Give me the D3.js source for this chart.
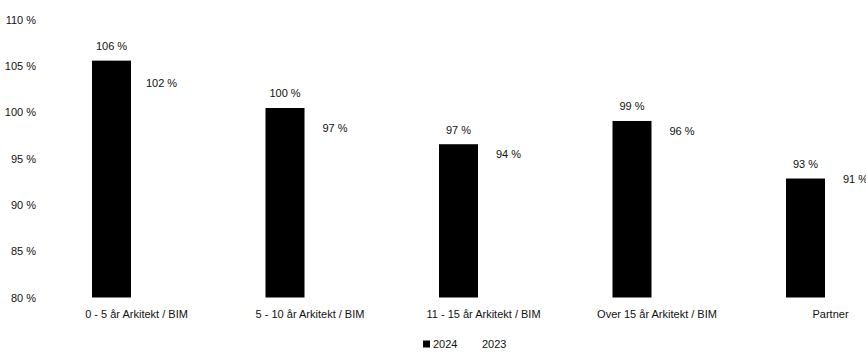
<!DOCTYPE html>
<html>
<head>
<meta charset="utf-8">
<script src="https://cdn.jsdelivr.net/npm/d3@7"></script>
<style>
  html, body { margin: 0; padding: 0; background: #fff; }
  svg { display: block; font-family: "Liberation Sans", Arial, sans-serif; }
</style>
</head>
<body>
<svg id="chart" width="866" height="352"></svg>
<script>
// Salary level relative to reference, per experience group
const categories = ["0 - 5 år Arkitekt / BIM", "5 - 10 år Arkitekt / BIM", "11 - 15 år Arkitekt / BIM", "Over 15 år Arkitekt / BIM", "Partner"];
const years = ["2024", "2023"];
const values2024 = [105.56, 100.45, 96.54, 99.05, 92.84];
const values2023 = [101.53, 96.68, 93.92, 96.43, 91.23];
const yTicks = [80, 85, 90, 95, 100, 105, 110];

const seriesColor = { "2024": "#000000", "2023": "#ffffff" };
const seriesValues = { "2024": values2024, "2023": values2023 };

const svg = d3.select("#chart");
const textColor = "#111";
const fmt = v => `${Math.round(v)} %`;

// Plot area runs past the right edge of the page, as in the exported layout
const x = d3.scaleBand().domain(categories).range([49.75, 917.25]).padding(0);
const groupWidth = 89;
const xSub = d3.scaleBand().domain(years).range([-groupWidth / 2, groupWidth / 2]).paddingInner(0.22);
const y = d3.scaleLinear().domain([80, 110]).range([297.5, 19.5]);

// Y axis: labels only
const yAxis = d3.axisLeft(y).tickValues(yTicks).tickSize(0).tickPadding(0).tickFormat(d => `${d} %`);
const gy = svg.append("g").attr("transform", "translate(36,0)").call(yAxis);
gy.select(".domain").remove();
gy.selectAll("text").attr("fill", textColor).style("font-size", "11px")
  .style("font-family", "\"Liberation Sans\", Arial, sans-serif");

// Bars
const rows = categories.map((c, i) => ({ cat: c, i }));
const groups = svg.append("g").selectAll("g.grp").data(rows).join("g")
  .attr("class", "grp")
  .attr("transform", d => `translate(${x(d.cat) + x.bandwidth() / 2},0)`);

years.forEach(yr => {
  groups.append("rect")
    .attr("x", xSub(yr))
    .attr("width", xSub.bandwidth())
    .attr("y", d => y(seriesValues[yr][d.i]))
    .attr("height", d => y(80) - y(seriesValues[yr][d.i]))
    .attr("fill", seriesColor[yr]);

  groups.append("text")
    .attr("x", xSub(yr) + xSub.bandwidth() / 2)
    .attr("y", d => y(seriesValues[yr][d.i]) - 14.5)
    .attr("dy", "0.35em")
    .attr("text-anchor", "middle")
    .attr("fill", textColor)
    .style("font-size", "11px")
    .text(d => fmt(seriesValues[yr][d.i]));
});

// Category labels
const xAxis = d3.axisBottom(x).tickSize(0).tickPadding(0);
const gx = svg.append("g").attr("transform", "translate(0,314)").call(xAxis);
gx.select(".domain").remove();
gx.selectAll("text").attr("fill", textColor).attr("dy", "0.35em").style("font-size", "11px")
  .style("font-family", "\"Liberation Sans\", Arial, sans-serif");

// Legend
const legend = svg.append("g").attr("transform", "translate(423,344)");
const legendX = { "2024": 0, "2023": 49 };
years.forEach(yr => {
  const item = legend.append("g").attr("transform", `translate(${legendX[yr]},0)`);
  item.append("rect").attr("x", 0).attr("y", -3.5).attr("width", 7).attr("height", 7).attr("fill", seriesColor[yr]);
  item.append("text").attr("x", 10).attr("dy", "0.35em").attr("fill", textColor)
    .style("font-size", "11px").text(yr);
});
</script>
</body>
</html>
